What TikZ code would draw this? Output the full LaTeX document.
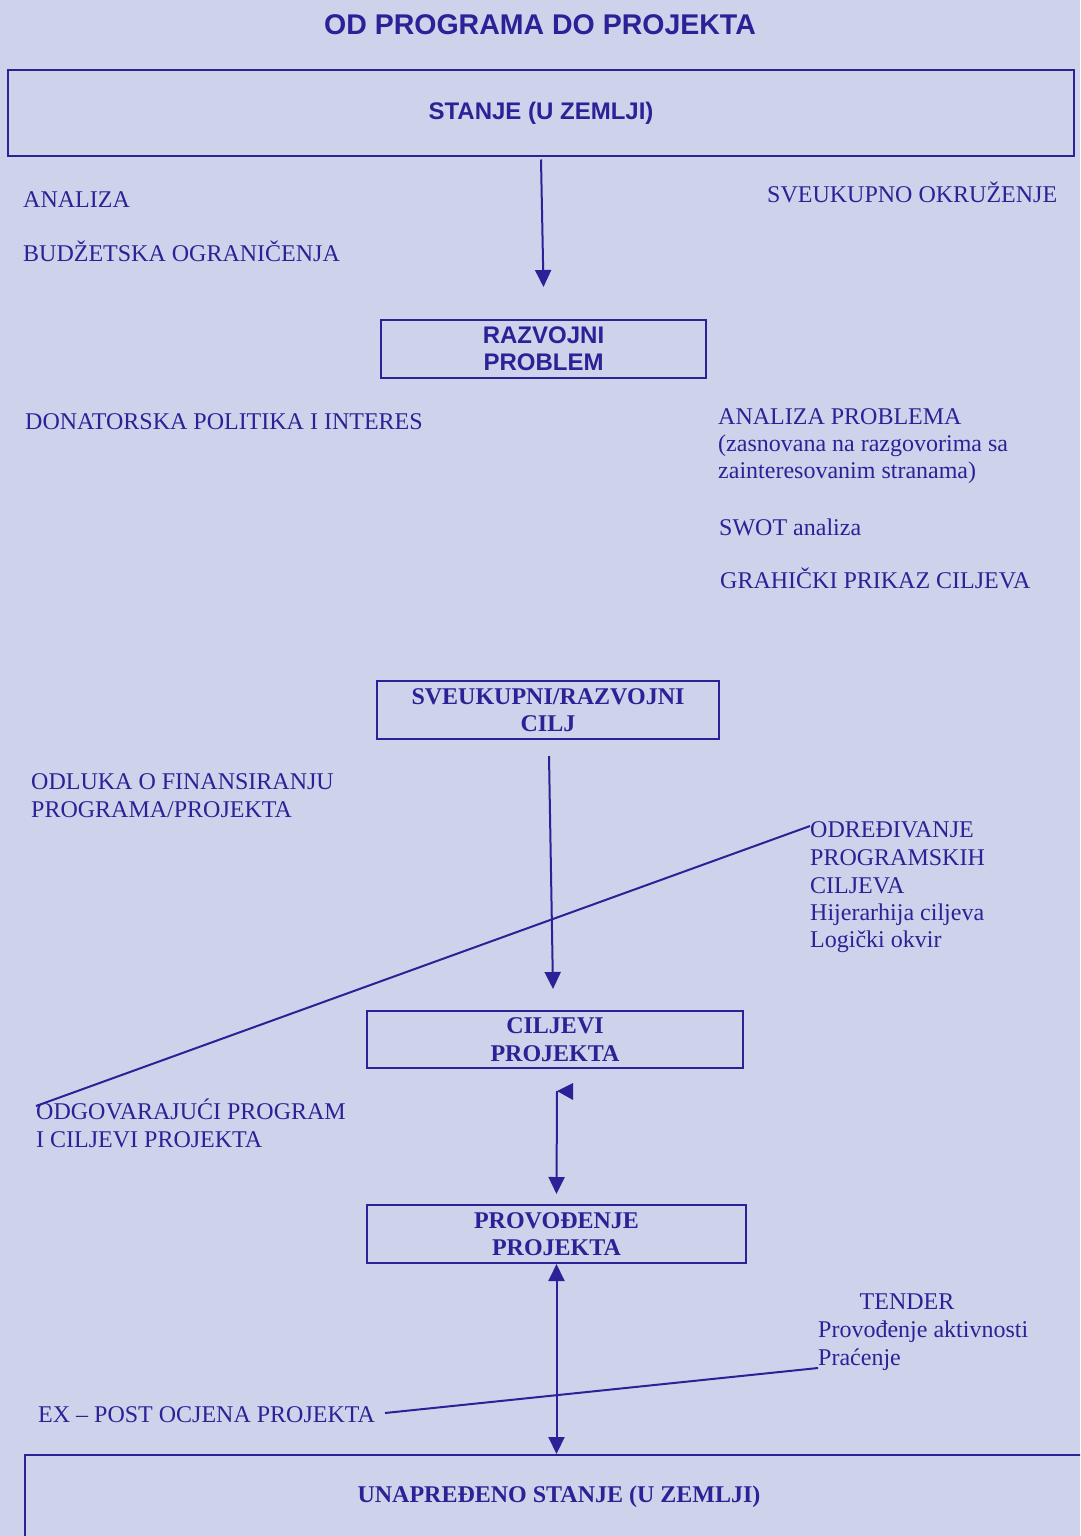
\documentclass[tikz,border=0pt]{standalone}
\usepackage{fontspec}
\setmainfont{Liberation Serif}
\newfontfamily\arialf{Liberation Sans}
\usetikzlibrary{arrows.meta}
\definecolor{bgc}{RGB}{206,211,235}
\definecolor{ink}{RGB}{42,34,150}
\begin{document}
\begin{tikzpicture}[x=1pt,y=-1pt,
  lbl/.style={anchor=base west, inner sep=0pt, text=ink, font=\fontsize{24}{28}\selectfont},
  sansbox/.style={draw=ink, line width=2pt, text=ink, inner sep=0pt, font=\arialf\bfseries\fontsize{24}{27}\selectfont, align=center},
  serifbox/.style={draw=ink, line width=2pt, text=ink, inner sep=0pt, font=\bfseries\fontsize{24}{27.5}\selectfont, align=center},
  conn/.style={draw=ink, line width=2pt},
  tip/.tip={Triangle[width=16pt,length=17pt]},
  arr/.style={conn, -tip},
  darr/.style={conn, tip-tip}]
\fill[bgc] (0,0) rectangle (1080,1536);
\useasboundingbox (0,0) rectangle (1080,1536);
\begin{scope}
\clip (0,0) rectangle (1080,1536);
% title
\node[inner sep=0pt, text=ink, font=\arialf\bfseries\fontsize{28.5}{30}\selectfont] (title) at (540,25) {OD PROGRAMA DO PROJEKTA};
% boxes
\node[sansbox, minimum width=1066pt, minimum height=85pt] (stanje) at (541,113) {STANJE (U ZEMLJI)};
\node[sansbox, minimum width=325pt, minimum height=58pt] (razvojni) at (543.5,349) {RAZVOJNI\\PROBLEM};
\node[serifbox, minimum width=342pt, minimum height=58pt] (cilj) at (548,710) {SVEUKUPNI/RAZVOJNI\\CILJ};
\node[serifbox, minimum width=376pt, minimum height=57pt] (ciljevi) at (555,1039.5) {CILJEVI\\PROJEKTA};
\node[serifbox, minimum width=379pt, minimum height=58pt] (provodjenje) at (556.5,1234) {PROVOĐENJE\\PROJEKTA};
\node[serifbox, minimum width=1100pt, minimum height=120pt] (unapredjeno) at (575,1515) {};
\node[inner sep=0pt, text=ink, font=\bfseries\fontsize{24}{27.5}\selectfont] (unaprtxt) at (559,1497) {UNAPREĐENO STANJE (U ZEMLJI)};
% labels
\node[lbl] (analiza) at (23,207) {ANALIZA};
\node[lbl] (budzet) at (23,261) {BUDŽETSKA OGRANIČENJA};
\node[lbl] (okruzenje) at (767,202) {SVEUKUPNO OKRUŽENJE};
\node[lbl] (donator) at (25,429) {DONATORSKA POLITIKA I INTERES};
\node[lbl] (anprob) at (718,424) {ANALIZA PROBLEMA};
\node[lbl] (zasn1) at (718,451) {(zasnovana na razgovorima sa};
\node[lbl] (zasn2) at (718,478) {zainteresovanim stranama)};
\node[lbl] (swot) at (719,535) {SWOT analiza};
\node[lbl] (grah) at (720,588) {GRAHIČKI PRIKAZ CILJEVA};
\node[lbl] (odluka1) at (31,789) {ODLUKA O FINANSIRANJU};
\node[lbl] (odluka2) at (31,817) {PROGRAMA/PROJEKTA};
\node[lbl] (odr1) at (810,837) {ODREĐIVANJE};
\node[lbl] (odr2) at (810,865) {PROGRAMSKIH};
\node[lbl] (odr3) at (810,893) {CILJEVA};
\node[lbl] (odr4) at (810,920) {Hijerarhija ciljeva};
\node[lbl] (odr5) at (810,947) {Logički okvir};
\node[lbl] (odg1) at (36,1119) {ODGOVARAJUĆI PROGRAM};
\node[lbl] (odg2) at (36,1147) {I CILJEVI PROJEKTA};
\node[lbl, anchor=base] (tender) at (907,1309) {TENDER};
\node[lbl] (provakt) at (818,1337) {Provođenje aktivnosti};
\node[lbl] (pracenje) at (818,1365) {Praćenje};
\node[lbl] (expost) at (38,1422) {EX – POST OCJENA PROJEKTA};
% connectors
\draw[arr] ([yshift=-3pt]stanje.south) -- ([yshift=32pt]razvojni.north);
\draw[arr] ([xshift=1pt,yshift=-16pt]cilj.south) -- ([xshift=-2pt,yshift=21pt]ciljevi.north);
\coordinate (flag) at ([xshift=2pt,yshift=-22pt]ciljevi.south);
\draw[arr] (flag) -- ([yshift=10pt]provodjenje.north);
\fill[ink] (flag) -- ++(16,-8) -- ++(0,17) -- cycle;
\draw[darr] (provodjenje.south) -- (provodjenje.south |- unapredjeno.north);
\coordinate (d1a) at (36,1106);
\coordinate (d1b) at (810,826);
\draw[conn] (d1a) -- (d1b);
\coordinate (d2a) at (385,1413);
\coordinate (d2b) at (818,1368);
\draw[conn] (d2a) -- (d2b);
\end{scope}
\end{tikzpicture}
\end{document}
